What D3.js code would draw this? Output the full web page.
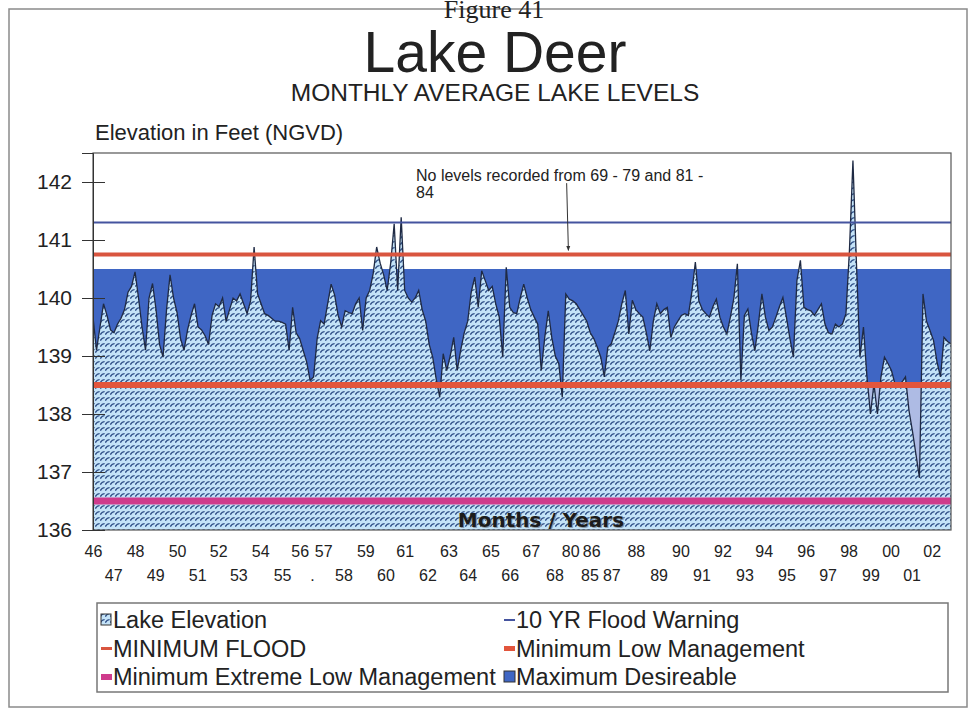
<!DOCTYPE html>
<html>
<head>
<meta charset="utf-8">
<title>Lake Deer</title>
<script src="https://cdn.jsdelivr.net/npm/d3@7"></script>
<style>
  body { margin: 0; background: #fff; }
  svg { display: block; }
  text { font-family: "Liberation Sans", Arial, sans-serif; fill: #222; }
</style>
</head>
<body>
<div id="chart"></div>
<script>
// year labels on the category axis and the month index where each one sits
var yearLabels = ["46","47","48","49","50","51","52","53","54","55","56",".","57","58","59","60","61","62","63","64","65","66","67","68","80","85","86","87","88","89","90","91","92","93","94","95","96","97","98","99","00","01","02"];
var labelMonths = [0,11.5,24,35.5,48,59.5,71.5,83,95.5,108,118,125,131.5,143,155.5,167,178,191,203,214,227,238,250,263.5,272.5,283.5,284.5,296,310,323,335.5,347.5,359.5,372,383,396,407,419.5,431.5,444,455.5,467.5,479];

// lake elevation, one reading every second month (ft NGVD)
var monthStep = 2;
var levels = [
  139.67,139.1,139.5,139.9,139.7,139.45,139.4,139.55,139.65,139.8,140.1,140.2,
  140.45,140.0,139.5,139.1,140.0,140.25,139.8,139.2,138.98,139.8,140.4,140.0,
  139.75,139.3,139.1,139.45,139.7,139.9,139.5,139.45,139.35,139.2,139.7,139.9,
  139.85,140.0,139.6,139.8,140.0,139.95,140.07,139.9,139.73,139.95,140.88,140.07,
  139.9,139.73,139.7,139.65,139.6,139.6,139.58,139.55,139.1,139.84,139.4,139.3,
  139.1,138.9,138.58,138.64,139.3,139.61,139.55,139.9,140.24,140.05,139.7,139.5,
  139.78,139.75,139.73,139.9,140.0,139.44,140.0,140.13,140.42,140.88,140.6,140.4,
  140.13,140.6,141.28,140.13,141.39,140.13,140.0,139.93,140.0,140.13,139.8,139.6,
  139.2,138.98,138.6,138.29,139.04,138.75,139.0,139.32,138.75,139.1,139.4,139.6,
  140.1,140.36,139.84,140.47,140.3,140.13,140.2,139.9,139.67,138.98,140.53,139.84,
  139.75,139.73,140.0,140.24,140.0,139.8,139.67,139.55,138.75,139.32,139.78,139.32,
  139.0,138.87,138.29,140.07,139.98,139.95,139.9,139.8,139.7,139.6,139.4,139.3,
  139.15,138.98,138.64,139.15,139.21,139.4,139.6,139.9,140.13,139.38,139.96,139.8,
  139.73,139.67,139.4,139.09,139.6,139.9,139.73,139.8,139.84,139.32,139.5,139.6,
  139.7,139.73,139.7,140.1,140.62,139.95,139.8,139.73,139.67,139.85,139.98,139.67,
  139.5,139.38,139.67,140.0,140.59,138.58,139.7,139.81,139.4,139.09,139.55,140.07,
  139.67,139.44,139.5,139.67,139.85,140.01,139.67,139.3,138.98,140.3,140.65,139.84,
  139.8,139.78,139.7,139.8,139.9,139.55,139.4,139.38,139.55,139.5,139.55,139.73,
  140.82,142.37,140.6,138.98,139.5,138.64,138.0,138.52,138.0,138.64,138.98,138.87,
  138.75,138.52,138.5,138.55,138.64,138.06,137.7,137.3,136.9,140.07,139.6,139.44,
  139.27,138.9,138.64,139.32,139.25,139.21
];

// reference levels
var floodWarning = 141.3;
var minFlood = 140.75;
var maxDesirable = 140.5;
var minLow = 138.5;
var minExtremeLow = 136.5;

var yTicks = [136,137,138,139,140,141,142];

var W = 977, H = 717;
var plotLeft = 93, plotRight = 951, plotTop = 153, plotBottom = 530;

var svg = d3.select("#chart").append("svg").attr("width", W).attr("height", H);
var defs = svg.append("defs");

var pat = defs.append("pattern").attr("id", "wave")
  .attr("width", 5).attr("height", 6).attr("patternUnits", "userSpaceOnUse");
pat.append("rect").attr("width", 5).attr("height", 6).attr("fill", "#c4e3f8");
pat.append("path").attr("d", "M0.3,4.6 Q2,1.4 4.6,1.6")
  .attr("fill", "none").attr("stroke", "#2f4f88").attr("stroke-width", 1.4);

defs.append("clipPath").attr("id", "plotClip").append("rect")
  .attr("x", plotLeft).attr("y", plotTop).attr("width", plotRight - plotLeft).attr("height", plotBottom - plotTop);

defs.append("marker").attr("id", "arrow").attr("viewBox", "0 0 10 10")
  .attr("refX", 9).attr("refY", 5).attr("markerWidth", 5).attr("markerHeight", 5)
  .attr("orient", "auto")
  .append("path").attr("d", "M0,1 L10,5 L0,9 Z").attr("fill", "#333");

var nMonths = (levels.length - 1) * monthStep;
var x = d3.scaleLinear().domain([0, nMonths]).range([plotLeft, plotRight]);
var y = d3.scaleLinear().domain([136, 142.5]).range([plotBottom, plotTop]);

// outer frame
svg.append("rect").attr("x", 9).attr("y", 9).attr("width", 958).attr("height", 698)
  .attr("fill", "none").attr("stroke", "#8a8a8a").attr("stroke-width", 1.5);

svg.append("text").attr("x", 494).attr("y", 18).attr("text-anchor", "middle")
  .style("font-family", "'Liberation Serif', 'Times New Roman', serif")
  .style("font-size", "26px").text("Figure 41");
svg.append("text").attr("x", 495).attr("y", 72).attr("text-anchor", "middle")
  .style("font-size", "57px").text("Lake Deer");
svg.append("text").attr("x", 495).attr("y", 101).attr("text-anchor", "middle")
  .style("font-size", "24.5px").text("MONTHLY AVERAGE LAKE LEVELS");
svg.append("text").attr("x", 95).attr("y", 140)
  .style("font-size", "22px").text("Elevation in Feet (NGVD)");

var plot = svg.append("g").attr("clip-path", "url(#plotClip)");
plot.append("rect").attr("x", plotLeft).attr("y", plotTop).attr("width", plotRight - plotLeft).attr("height", plotBottom - plotTop)
  .attr("fill", "#ffffff");

// maximum desirable band
plot.append("rect").attr("x", plotLeft).attr("width", plotRight - plotLeft)
  .attr("y", y(minLow)).attr("height", y(136) - y(minLow)).attr("fill", "#aebbe4");
plot.append("rect").attr("x", plotLeft).attr("width", plotRight - plotLeft)
  .attr("y", y(maxDesirable)).attr("height", y(minLow) - y(maxDesirable)).attr("fill", "#3f66c4");

var area = d3.area()
  .x(function(d, i) { return x(i * monthStep); })
  .y0(y(136))
  .y1(function(d) { return y(d); });
var line = d3.line()
  .x(function(d, i) { return x(i * monthStep); })
  .y(function(d) { return y(d); });

plot.append("path").datum(levels).attr("d", area).attr("fill", "url(#wave)");
plot.append("path").datum(levels).attr("d", line)
  .attr("fill", "none").attr("stroke", "#1f2a44").attr("stroke-width", 1.3);

var refLines = [
  {v: floodWarning, c: "#45549f", w: 2},
  {v: minFlood, c: "#d9553f", w: 4},
  {v: minLow, c: "#e2553c", w: 6},
  {v: minExtremeLow, c: "#cf3b8c", w: 7}
];
plot.selectAll(".ref").data(refLines).enter().append("line")
  .attr("x1", plotLeft).attr("x2", plotRight)
  .attr("y1", function(d) { return y(d.v); }).attr("y2", function(d) { return y(d.v); })
  .attr("stroke", function(d) { return d.c; }).attr("stroke-width", function(d) { return d.w; });

// "Months / Years" inside the plot
svg.append("text").attr("x", 542).attr("y", 528).attr("text-anchor", "middle")
  .style("font-family", "'DejaVu Sans', Verdana, sans-serif").style("font-weight", "bold")
  .style("font-size", "20px").style("fill", "#8a9aa8")
  .text("Months / Years");
svg.append("text").attr("x", 541).attr("y", 527).attr("text-anchor", "middle")
  .style("font-family", "'DejaVu Sans', Verdana, sans-serif").style("font-weight", "bold")
  .style("font-size", "20px").style("fill", "#1c1c1c")
  .text("Months / Years");

svg.append("rect").attr("x", plotLeft).attr("y", plotTop).attr("width", plotRight - plotLeft).attr("height", plotBottom - plotTop)
  .attr("fill", "none").attr("stroke", "#555").attr("stroke-width", 1.2);

// y axis
var yAxis = svg.append("g").attr("transform", "translate(" + plotLeft + ",0)")
  .call(d3.axisLeft(y).tickValues(yTicks).tickSize(11).tickPadding(10).tickFormat(d3.format("d")));
yAxis.select(".domain").attr("stroke", "#333");
yAxis.selectAll(".tick line").attr("x1", 12).attr("stroke", "#333");
yAxis.selectAll("text").style("font-size", "21px").style("font-family", "'Liberation Sans', Arial, sans-serif").attr("fill", "#222");

// x axis, staggered labels
var xAxis = svg.append("g").attr("transform", "translate(0," + plotBottom + ")")
  .call(d3.axisBottom(x).tickValues(labelMonths).tickSize(0)
    .tickFormat(function(d, i) { return yearLabels[i]; }));
xAxis.select(".domain").remove();
xAxis.selectAll("text")
  .attr("y", function(d, i) { return i % 2 === 0 ? 27 : 51; })
  .attr("dy", 0)
  .style("font-size", "16px").style("font-family", "'Liberation Sans', Arial, sans-serif").attr("fill", "#222");

// annotation
svg.append("text").attr("x", 416).attr("y", 181).style("font-size", "16px")
  .text("No levels recorded from 69 - 79 and 81 -");
svg.append("text").attr("x", 416).attr("y", 198).style("font-size", "16px").text("84");
svg.append("line")
  .attr("x1", x(270.5)).attr("y1", y(141.98))
  .attr("x2", x(271.5)).attr("y2", y(140.82))
  .attr("stroke", "#333").attr("stroke-width", 1).attr("marker-end", "url(#arrow)");

// legend
var legend = svg.append("g");
legend.append("rect").attr("x", 97).attr("y", 603).attr("width", 851).attr("height", 89)
  .attr("fill", "#fff").attr("stroke", "#777").attr("stroke-width", 1.5);

var legendNames = ["Lake Elevation", "10 YR Flood Warning", "MINIMUM FLOOD", "Minimum Low Management", "Minimum Extreme Low Management", "Maximum Desireable"];
var legendKinds = ["pattern", "thin", "mid", "thick", "pink", "box"];

legendNames.forEach(function(name, i) {
  var col = i % 2, row = Math.floor(i / 2);
  var sx = col === 0 ? 101 : 504;
  var cy = 620 + row * 28.5;
  var kind = legendKinds[i];
  if (kind === "pattern") {
    legend.append("rect").attr("x", sx).attr("y", cy - 6).attr("width", 10).attr("height", 11)
      .attr("fill", "url(#wave)").attr("stroke", "#333");
  } else if (kind === "box") {
    legend.append("rect").attr("x", sx).attr("y", cy - 6).attr("width", 11).attr("height", 11)
      .attr("fill", "#3f66c4").attr("stroke", "#333");
  } else {
    var st = {thin: ["#45549f", 2], mid: ["#d9553f", 3], thick: ["#e2553c", 5], pink: ["#cf3b8c", 6]}[kind];
    legend.append("line").attr("x1", sx).attr("x2", sx + 11).attr("y1", cy).attr("y2", cy)
      .attr("stroke", st[0]).attr("stroke-width", st[1]);
  }
  legend.append("text").attr("x", sx + 12).attr("y", cy + 8)
    .style("font-size", "23.5px").text(name);
});
</script>
</body>
</html>
